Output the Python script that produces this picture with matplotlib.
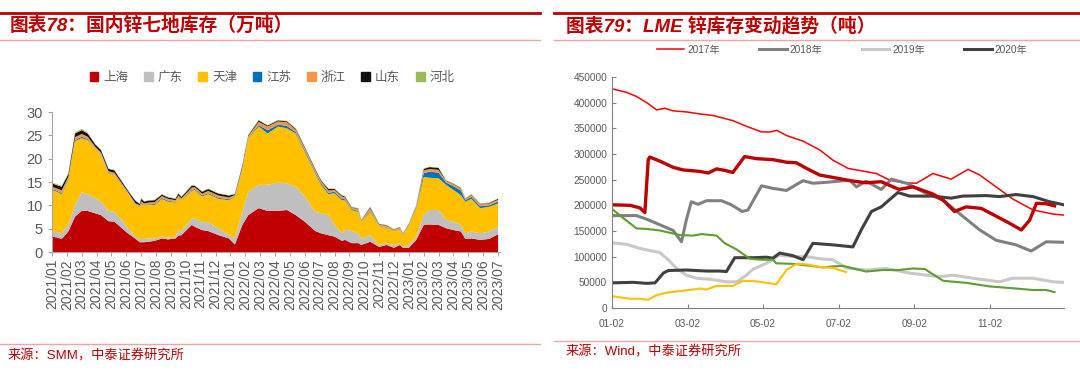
import matplotlib
matplotlib.use("Agg")
import matplotlib.pyplot as plt
from matplotlib.lines import Line2D
from matplotlib.patches import Patch

plt.rcParams['font.family'] = ['Liberation Sans', 'Noto Sans CJK SC']
plt.rcParams['axes.unicode_minus'] = False

# ---------------- 左图: 国内锌七地库存 (万吨) ----------------
月份标签 = ["2021/%02d" % i for i in range(1, 13)] + ["2022/%02d" % i for i in range(1, 13)] + \
          ["2023/%02d" % i for i in range(1, 8)]
# 横轴位置 (以 2021/01 为 0 的月序号)
月序 = [0, 0.35, 0.65, 1.1, 1.55, 2.0, 2.4, 2.9, 3.3, 3.8, 4.2, 4.7, 5.1, 5.6, 5.9, 6.0, 6.2,
        6.5, 6.9, 7.4, 7.8, 8.3, 8.5, 8.7, 9.4, 9.6, 10.1, 10.5, 11.2, 11.9, 12.3, 12.8, 13.2,
        13.9, 14.5, 15.2, 15.8, 16.4, 17.0, 17.7, 18.1, 18.6, 19.0, 19.5, 19.7, 20.15, 20.6,
        20.8, 21.4, 22.0, 22.5, 23.0, 23.4, 23.6, 24.0, 24.5, 25.0, 25.4, 26.0, 26.5, 27.0,
        27.5, 27.8, 28.2, 28.8, 29.4, 30.0]
上海 = [3.3, 3.1, 2.8, 4.4, 7.6, 8.8, 8.8, 8.3, 7.9, 6.6, 6.5, 5.1, 4.0, 2.9, 2.1, 2.1, 2.1,
        2.2, 2.4, 2.9, 2.7, 2.9, 3.5, 3.6, 5.8, 5.4, 4.7, 4.5, 3.6, 2.9, 1.6, 5.8, 7.9,
        9.4, 8.8, 8.8, 9.0, 7.9, 6.5, 4.5, 4.0, 3.6, 3.3, 2.4, 2.6, 1.9, 1.9,
        1.5, 2.2, 1.1, 1.5, 0.9, 1.5, 0.9, 0.9, 2.6, 5.8, 5.9, 5.8, 5.1, 4.7,
        4.4, 2.8, 2.9, 2.6, 2.8, 3.8]
广东 = [1.1, 1.1, 1.2, 1.4, 2.5, 4.0, 3.6, 3.2, 2.9, 2.2, 2.1, 1.8, 1.1, 0.4, 0.7, 0.7, 0.7,
        0.7, 0.5, 0.4, 0.4, 0.4, 1.3, 0.8, 1.4, 1.8, 1.7, 1.9, 1.5, 0.7, 1.4, 2.8, 5.0,
        5.0, 5.6, 6.1, 5.7, 6.1, 5.4, 4.1, 4.3, 4.3, 2.5, 1.6, 2.2, 2.6, 2.1,
        1.4, 1.4, 0.4, 0.4, 0.6, 0.4, 0.2, 0.6, 0.7, 2.1, 3.1, 3.2, 1.8, 1.8,
        1.4, 1.2, 1.5, 1.4, 1.6, 1.6]
天津 = [8.9, 8.7, 8.4, 9.6, 13.7, 11.6, 11.6, 10.7, 10.0, 8.1, 7.9, 7.5, 7.5, 6.8, 6.9, 7.5, 7.2,
        7.3, 7.2, 8.1, 7.7, 7.3, 6.8, 6.7, 5.9, 6.1, 5.5, 6.0, 6.3, 7.5, 8.9, 9.0, 11.5,
        12.5, 11.0, 12.0, 11.8, 11.4, 9.6, 8.3, 6.1, 4.5, 6.8, 7.1, 6.3, 4.5, 4.6,
        3.6, 5.0, 4.1, 3.3, 3.0, 3.0, 2.5, 4.3, 6.1, 8.2, 6.9, 6.8, 7.5, 6.8,
        6.4, 6.8, 7.0, 5.4, 5.3, 5.0]
江苏 = [0.2, 0.2, 0.2, 0.2, 0.2, 0.3, 0.2, 0.1, 0.1, 0.1, 0.1, 0.1, 0.1, 0.1, 0.1, 0.2, 0.1,
        0.1, 0.2, 0.2, 0.2, 0.1, 0.1, 0.1, 0.2, 0.2, 0.2, 0.2, 0.2, 0.2, 0.1, 0.2, 0.1,
        0.3, 0.7, 0.4, 0.5, 0.3, 0.3, 0.3, 0.3, 0.3, 0.3, 0.3, 0.2, 0.2, 0.2,
        0.1, 0.2, 0.1, 0.1, 0.1, 0.1, 0.1, 0.05, 0.2, 0.8, 1.3, 1.2, 0.5, 0.8,
        1.0, 0.3, 0.4, 0.4, 0.3, 0.4]
浙江 = [0.5, 0.5, 0.6, 0.5, 0.6, 0.6, 0.5, 0.3, 0.4, 0.3, 0.4, 0.2, 0.2, 0.3, 0.2, 0.4, 0.3,
        0.3, 0.4, 0.4, 0.4, 0.4, 0.4, 0.3, 0.5, 0.4, 0.4, 0.5, 0.5, 0.4, 0.2, 0.4, 0.3,
        0.7, 0.8, 0.7, 0.8, 0.5, 0.5, 0.4, 0.4, 0.5, 0.4, 0.5, 0.4, 0.3, 0.4,
        0.2, 0.6, 0.2, 0.3, 0.2, 0.2, 0.2, 0.1, 0.3, 0.6, 0.6, 0.6, 0.3, 0.4,
        0.4, 0.2, 0.4, 0.4, 0.4, 0.4]
山东 = [0.7, 0.7, 0.8, 0.6, 0.8, 0.8, 0.7, 0.5, 0.5, 0.5, 0.5, 0.4, 0.3, 0.5, 0.3, 0.5, 0.4,
        0.4, 0.4, 0.3, 0.3, 0.3, 0.4, 0.3, 0.4, 0.3, 0.4, 0.4, 0.4, 0.4, 0.2, 0.3, 0.2,
        0.3, 0.2, 0.2, 0.2, 0.2, 0.2, 0.2, 0.2, 0.3, 0.2, 0.2, 0.2, 0.1, 0.1,
        0.05, 0.2, 0.1, 0.1, 0.05, 0.1, 0.05, 0.1, 0.1, 0.3, 0.4, 0.4, 0.1, 0.1,
        0.1, 0.1, 0.1, 0.1, 0.1, 0.2]
河北 = [0.2, 0.2, 0.2, 0.2, 0.2, 0.3, 0.2, 0.1, 0.1, 0.1, 0.1, 0.1, 0.1, 0.1, 0.1, 0.2, 0.1,
        0.1, 0.1, 0.1, 0.1, 0.1, 0.1, 0.1, 0.2, 0.1, 0.1, 0.1, 0.1, 0.1, 0.1, 0.1, 0.1,
        0.1, 0.1, 0.1, 0.1, 0.1, 0.1, 0.1, 0.1, 0.1, 0.1, 0.1, 0.1, 0.1, 0.1,
        0.05, 0.1, 0.1, 0.1, 0.05, 0.1, 0.05, 0.05, 0.1, 0.1, 0.1, 0.1, 0.1, 0.1,
        0.1, 0.1, 0.1, 0.1, 0.1, 0.1]
地区 = ["上海", "广东", "天津", "江苏", "浙江", "山东", "河北"]
地区颜色 = ["#C00000", "#BFBFBF", "#FFC000", "#0070C0", "#F79646", "#111111", "#9BBB59"]

# ---------------- 右图: LME 锌库存 (吨) ----------------
# 横轴位置: 以 01-02 为 0 的月份
x2017 = [0, 0.39, 0.65, 0.92, 1.18, 1.4, 1.62, 1.97, 2.33, 2.68, 3.2, 3.56, 3.96, 4.18, 4.37,
         4.62, 5.06, 5.5, 5.85, 6.25, 7.0, 7.36, 7.7, 8.06, 8.5, 8.98, 9.43, 9.74, 10.17,
         10.62, 11.15, 11.68, 11.97]
y2017 = [427000, 420000, 412000, 400000, 386000, 389000, 384000, 382000, 378000, 375000,
         365000, 354000, 343000, 343000, 346000, 336000, 325000, 308000, 288000, 272000,
         262000, 249000, 244000, 243000, 262000, 251000, 270000, 259000, 236000, 212000,
         191000, 183000, 181000]
x2018 = [0, 0.65, 0.92, 1.27, 1.62, 1.84, 1.97, 2.1, 2.28, 2.5, 2.9, 3.16, 3.45, 3.6, 3.96,
         4.26, 4.62, 5.06, 5.32, 5.7, 6.3, 6.47, 6.73, 7.13, 7.4, 7.8, 8.33, 8.77, 9.2, 9.74,
         10.17, 10.7, 11.1, 11.5, 11.97]
y2018 = [180000, 180000, 173000, 162000, 151000, 129000, 172000, 207000, 202000, 209000,
         209000, 201000, 188000, 191000, 238000, 233000, 229000, 248000, 243000, 245000,
         249000, 236000, 247000, 231000, 251000, 243000, 223000, 210000, 184000, 152000,
         132000, 123000, 111000, 129000, 128000]
x2019 = [0, 0.39, 0.74, 1.0, 1.27, 1.49, 1.71, 1.97, 2.24, 2.59, 3.03, 3.3, 3.56, 3.74, 4.09,
         4.44, 4.79, 5.15, 5.5, 5.85, 6.2, 6.73, 7.26, 7.88, 8.67, 9.03, 9.56, 10.26, 10.6,
         11.15, 11.68, 11.97]
y2019 = [127000, 124000, 116000, 112000, 108000, 94000, 77000, 64000, 58000, 56000, 51000,
         51000, 64000, 76000, 87000, 103000, 100000, 100000, 96000, 94000, 78000, 74000,
         77000, 68000, 61000, 64000, 58000, 51000, 58000, 58000, 51000, 50000]
x2020 = [0, 0.56, 0.92, 1.14, 1.36, 1.49, 1.97, 2.5, 2.85, 3.03, 3.25, 3.74, 4.09, 4.26, 4.44,
         4.79, 5.06, 5.32, 5.85, 6.38, 6.6, 6.87, 7.13, 7.57, 7.88, 8.5, 8.98, 9.29, 9.91,
         10.26, 10.7, 11.15, 11.59, 11.97]
y2020 = [49000, 50000, 48000, 49000, 68000, 73000, 74000, 72000, 72000, 71000, 98000, 98000,
         99000, 97000, 107000, 102000, 94000, 126000, 123000, 119000, 152000, 188000, 197000,
         225000, 218000, 218000, 214000, 218000, 219000, 217000, 221000, 217000, 207000,
         201000]
x2021 = [0, 0.48, 0.74, 0.87, 0.96, 1.0, 1.27, 1.62, 1.88, 2.33, 2.55, 2.77, 2.99, 3.2, 3.51,
         3.82, 4.26, 4.62, 4.88, 5.15, 5.5, 6.03, 6.3, 6.73, 7.13, 7.6, 7.97, 8.5, 8.77, 9.07,
         9.38, 9.78, 10.17, 10.53, 10.84, 11.06, 11.24, 11.5, 11.72]
y2021 = [201000, 200000, 195000, 186000, 289000, 294000, 286000, 274000, 269000, 266000,
         263000, 271000, 268000, 264000, 295000, 291000, 289000, 284000, 283000, 272000,
         259000, 252000, 248000, 244000, 246000, 231000, 236000, 222000, 210000, 188000,
         197000, 194000, 179000, 165000, 152000, 171000, 204000, 203000, 199000]
x2022 = [0, 0.3, 0.65, 0.92, 1.27, 1.8, 2.15, 2.37, 2.77, 2.99, 3.3, 3.65, 3.96, 4.26, 4.35,
         4.79, 5.15, 5.59, 5.85, 6.12, 6.73, 7.17, 7.6, 7.97, 8.28, 8.77, 9.38, 10.0, 10.7,
         11.15, 11.5, 11.72]
y2022 = [193000, 175000, 155000, 154000, 151000, 142000, 141000, 144000, 141000, 126000,
         114000, 96000, 94000, 94000, 87000, 86000, 83000, 79000, 81000, 82000, 71000, 74000,
         74000, 77000, 76000, 53000, 49000, 42000, 38000, 35000, 35000, 31000]
x2023 = [0, 0.48, 0.74, 0.96, 1.18, 1.45, 1.8, 2.15, 2.33, 2.5, 2.77, 3.2, 3.47, 3.82, 4.09,
         4.35, 4.62, 4.88, 5.15, 5.5, 5.85, 6.2]
y2023 = [23000, 18000, 18000, 16000, 25000, 30000, 33000, 36000, 38000, 36000, 43000, 43000,
         53000, 52000, 49000, 46000, 74000, 86000, 85000, 80000, 78000, 70000]
右图刻度位置 = [0, 2, 4, 6, 8, 10]
右图刻度标签 = ["01-02", "03-02", "05-02", "07-02", "09-02", "11-02"]

深红 = "#C00000"
浅红 = "#F2A3A3"
灰字 = "#595959"
W, H = 1080, 377


def 装饰(fig):  # 标题、红线、来源
    # 左半
    fig.add_artist(Line2D([0, 540 / W], [1 - 13 / H] * 2, color=深红, lw=2))
    fig.add_artist(Line2D([0, 540 / W], [1 - 40 / H] * 2, color=浅红, lw=1))
    fig.add_artist(Line2D([0, 540 / W], [1 - 344 / H] * 2, color=浅红, lw=1))
    fig.text(10 / W, 1 - 26 / H, "图表78：国内锌七地库存（万吨）", color=深红, fontsize=13.5,
             fontweight="bold", style="italic", va="center", ha="left")
    fig.text(8 / W, 1 - 356 / H, "来源：SMM，中泰证券研究所", color=深红, fontsize=9.5,
             va="center", ha="left")
    # 右半
    fig.add_artist(Line2D([554 / W, 1], [1 - 13 / H] * 2, color=深红, lw=2))
    fig.add_artist(Line2D([554 / W, 1], [1 - 40 / H] * 2, color=浅红, lw=1))
    fig.add_artist(Line2D([554 / W, 1], [1 - 341 / H] * 2, color=浅红, lw=1))
    fig.text(566 / W, 1 - 26 / H, "图表79：LME 锌库存变动趋势（吨）", color=深红, fontsize=13.5,
             fontweight="bold", style="italic", va="center", ha="left")
    fig.text(566 / W, 1 - 352 / H, "来源：Wind，中泰证券研究所", color=深红, fontsize=9.5,
             va="center", ha="left")


def 左图(fig):
    ax = fig.add_axes([52 / W, 1 - 252 / H, 448 / W, 140 / H])
    ax.stackplot(月序, 上海, 广东, 天津, 江苏, 浙江, 山东, 河北, colors=地区颜色,
                 labels=地区, linewidth=0)
    ax.set_xlim(0, 30.13)
    ax.set_ylim(0, 30)
    ax.set_yticks(range(0, 31, 5))
    ax.set_xticks(range(len(月份标签)))
    ax.set_xticklabels(月份标签, rotation=90, fontsize=10)
    ax.tick_params(axis="y", labelsize=10.5, colors=灰字, length=3, direction="out")
    ax.tick_params(axis="x", colors=灰字, length=3, direction="out", pad=2)
    for s in ["top", "right"]:
        ax.spines[s].set_visible(False)
    for s in ["left", "bottom"]:
        ax.spines[s].set_color("#A6A6A6")
    ax.tick_params(color="#A6A6A6")
    handles = [Patch(color=c) for c in 地区颜色]
    fig.legend(handles, 地区, loc="center", bbox_to_anchor=(272 / W, 1 - 78 / H), ncol=7,
               frameon=False, fontsize=9, handlelength=0.7, handleheight=0.7,
               handletextpad=0.4, columnspacing=1.25, labelcolor=灰字)


def 右图(fig):
    ax = fig.add_axes([612 / W, 1 - 308 / H, 452 / W, 231 / H])
    ax.plot(x2017, y2017, color="#FF0000", lw=1.1, label="2017年")
    ax.plot(x2018, y2018, color="#808080", lw=2.2, label="2018年")
    ax.plot(x2019, y2019, color="#C8C8C8", lw=2.2, label="2019年")
    ax.plot(x2020, y2020, color="#404040", lw=2.2, label="2020年")
    ax.plot(x2021, y2021, color="#C00000", lw=2.4)
    ax.plot(x2022, y2022, color="#5B9E32", lw=1.5)
    ax.plot(x2023, y2023, color="#FFC000", lw=1.5)
    ax.set_xlim(0, 11.97)
    ax.set_ylim(0, 450000)
    ax.set_yticks(range(0, 450001, 50000))
    ax.set_xticks(右图刻度位置)
    ax.set_xticklabels(右图刻度标签)
    ax.tick_params(labelsize=7.3, colors=灰字, length=3, direction="in")
    ax.tick_params(axis="x", pad=8)
    ax.tick_params(color="#808080")
    for s in ["top", "right"]:
        ax.spines[s].set_visible(False)
    for s in ["left", "bottom"]:
        ax.spines[s].set_color("#808080")
    h, l = ax.get_legend_handles_labels()
    fig.legend(h, l, loc="center", bbox_to_anchor=(842 / W, 1 - 50 / H), ncol=4,
               frameon=False, fontsize=7.3, handlelength=2.7, handletextpad=0.3,
               columnspacing=3.9, labelcolor=灰字)


def main():
    fig = plt.figure(figsize=(W / 100, H / 100), dpi=100)
    装饰(fig)
    左图(fig)
    右图(fig)
    fig.savefig("out.png", dpi=100)


if __name__ == "__main__":
    main()
